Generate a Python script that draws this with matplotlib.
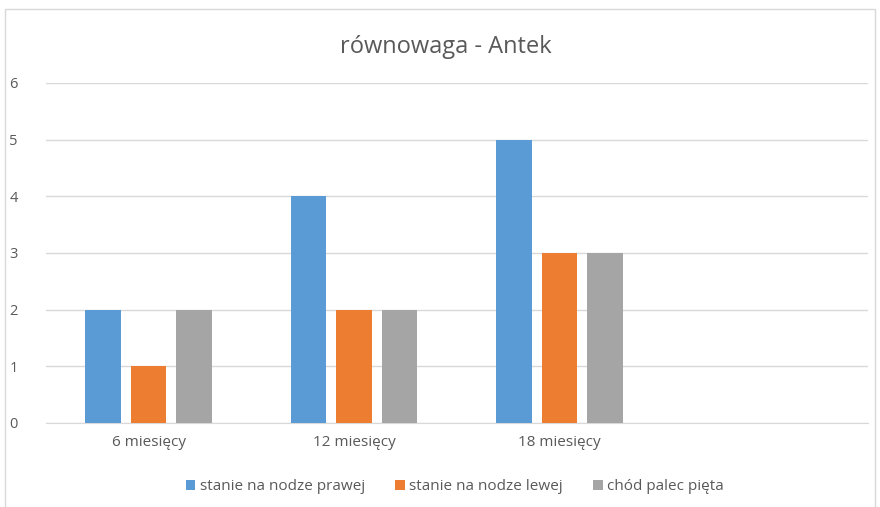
import matplotlib.pyplot as plt
import numpy as np
from matplotlib.patches import Rectangle

plt.rcParams['font.family'] = ['Open Sans', 'DejaVu Sans']

# data
categories = ['6 miesięcy', '12 miesięcy', '18 miesięcy', '']
series_names = ['stanie na nodze prawej', 'stanie na nodze lewej', 'chód palec pięta']
prawa = [2, 4, 5, 0]
lewa = [1, 2, 3, 0]
chod = [2, 2, 3, 0]
colors = ['#5B9BD5', '#ED7D31', '#A5A5A5']

fig = plt.figure(figsize=(8.8, 5.07), dpi=100)
ax = fig.add_axes([0.052, 0.1657, 0.934, 0.6706])

# light chart border like the excel frame
fig.patches.append(Rectangle((5 / 880, -0.01), 870 / 880, (507 - 9) / 507 + 0.01,
                             transform=fig.transFigure, fill=False,
                             edgecolor='#D9D9D9', linewidth=1))

x = np.arange(len(categories))
bar_width = 0.172
step = 0.222
for i, (vals, name) in enumerate(zip([prawa, lewa, chod], series_names)):
    ax.bar(x + (i - 1) * step, vals, width=bar_width, color=colors[i], label=name, zorder=3)

ax.set_xlim(-0.5, len(categories) - 0.5)
ax.set_ylim(0, 6)
ax.set_yticks(range(7))
ax.yaxis.grid(True, color='#D9D9D9', linewidth=1, zorder=0)
for s in ['top', 'right', 'left']:
    ax.spines[s].set_visible(False)
ax.spines['bottom'].set_color('#D9D9D9')
ax.tick_params(axis='both', length=0, colors='#595959')
ax.tick_params(axis='y', pad=20, labelsize=10.5)
ax.tick_params(axis='x', pad=9, labelsize=11)
ax.set_xticks(x)
ax.set_xticklabels(categories)

fig.text(0.507, 0.908, 'równowaga - Antek', ha='center', va='center', fontsize=17, color='#595959')

ax.legend(loc='center', bbox_to_anchor=(0.517, 0.04), bbox_transform=fig.transFigure,
          ncol=3, frameon=False, fontsize=11, labelcolor='#595959',
          handlelength=0.6, handleheight=0.6, handletextpad=0.3, columnspacing=2.0)

fig.savefig('out.png', dpi=100)
